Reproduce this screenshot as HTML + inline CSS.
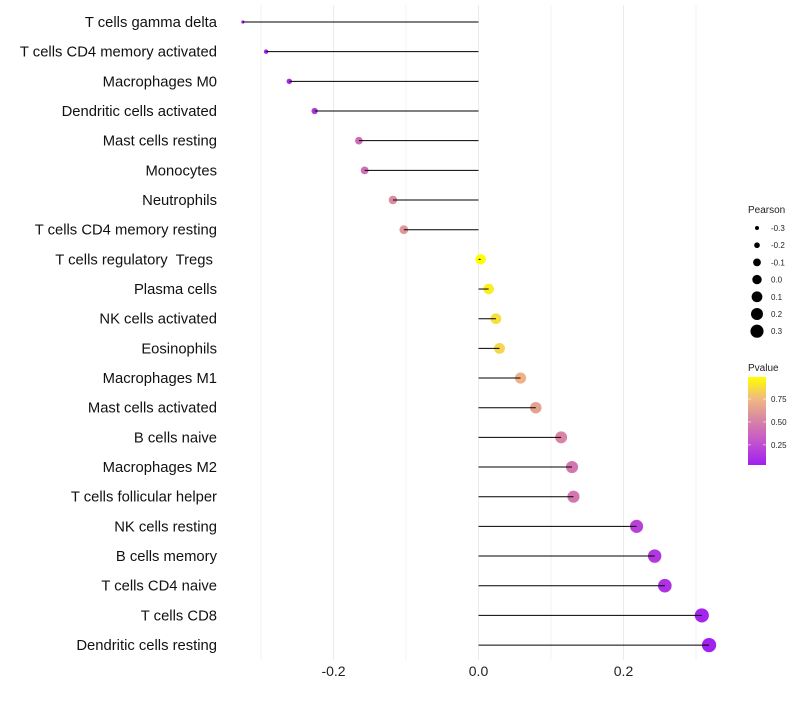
<!DOCTYPE html>
<html><head><meta charset="utf-8"><style>
body{margin:0;background:#fff;font-family:"Liberation Sans",sans-serif}
</style></head><body>
<svg id="c" width="800" height="700" xmlns="http://www.w3.org/2000/svg" font-family="Liberation Sans, sans-serif"></svg>
<script>
const categories=["T cells gamma delta","T cells CD4 memory activated","Macrophages M0","Dendritic cells activated","Mast cells resting","Monocytes","Neutrophils","T cells CD4 memory resting","T cells regulatory  Tregs ","Plasma cells","NK cells activated","Eosinophils","Macrophages M1","Mast cells activated","B cells naive","Macrophages M2","T cells follicular helper","NK cells resting","B cells memory","T cells CD4 naive","T cells CD8","Dendritic cells resting"];
const pearson=[-0.325,-0.293,-0.261,-0.226,-0.165,-0.157,-0.118,-0.103,0.003,0.014,0.024,0.029,0.058,0.079,0.114,0.129,0.131,0.218,0.243,0.257,0.308,0.318];
const pvalue=[0.05,0.07,0.1,0.15,0.4,0.42,0.55,0.6,0.99,0.93,0.88,0.85,0.72,0.65,0.52,0.46,0.46,0.2,0.15,0.12,0.06,0.04];
const xTicks=[-0.2,0,0.2];
const xTickLabels=["-0.2","0.0","0.2"];
const sizeLegend=[-0.3,-0.2,-0.1,0.0,0.1,0.2,0.3];
const sizeLegendLabels=["-0.3","-0.2","-0.1","0.0","0.1","0.2","0.3"];
const pTicks=[0.25,0.5,0.75];
const pTickLabels=["0.25","0.50","0.75"];

const NS="http://www.w3.org/2000/svg";
const svg=document.getElementById('c');
function mk(t,a,p){const e=document.createElementNS(NS,t);for(const k in a)e.setAttribute(k,a[k]);(p||svg).appendChild(e);return e;}
const x=v=>478.5+v*725;
const y=i=>22+i*29.67;
const rad=v=>Math.max(1.6,Math.sqrt(Math.max(0,27+75*v)));
const stops=[[0,[160,32,240]],[0.3,[200,90,200]],[0.5,[215,130,165]],[0.75,[240,185,130]],[1,[255,255,0]]];
function col(p){const t=Math.max(0,Math.min(1,(p-0.03)/0.96));for(let i=1;i<stops.length;i++){if(t<=stops[i][0]){const a=stops[i-1],b=stops[i],f=(t-a[0])/(b[0]-a[0]);return 'rgb('+a[1].map((c,j)=>Math.round(c+(b[1][j]-c)*f)).join(',')+')';}}return 'rgb(255,255,0)';}

const grid=mk('g',{});


for(let v=-0.3;v<=0.301;v+=0.1){mk('line',{x1:x(v),x2:x(v),y1:5,y2:660,stroke:Math.abs(Math.round(v*10))%2===0?'#ebebeb':'#f3f3f3','stroke-width':1},grid);}
xTicks.forEach((v,i)=>{const t=mk('text',{x:x(v),y:676,'text-anchor':'middle','font-size':14,fill:'#222'});t.textContent=xTickLabels[i];

});
categories.forEach((c,i)=>{
 const t=mk('text',{x:217,y:y(i)+5,'text-anchor':'end','font-size':14.8,fill:'#111',style:'white-space:pre'});t.textContent=c;
 
 
 const pt=mk('circle',{cx:x(pearson[i]),cy:y(i),r:rad(pearson[i]),fill:col(pvalue[i])});
 
 
 const ln=mk('line',{x1:x(0),x2:x(pearson[i]),y1:y(i),y2:y(i),stroke:'#000','stroke-width':1});
 
 
});
const lg=mk('g',{});


let tt=mk('text',{x:748,y:213,'font-size':10,fill:'#222'},lg);tt.textContent='Pearson';
sizeLegend.forEach((v,i)=>{const cy=228+i*17.2;mk('circle',{cx:757,cy:cy,r:Math.sqrt(Math.max(4,22+70*v)),fill:'#000'},lg);const t=mk('text',{x:771,y:cy+3,'font-size':8,fill:'#222'},lg);t.textContent=sizeLegendLabels[i];});
const cg=mk('g',{});


tt=mk('text',{x:748,y:371,'font-size':10,fill:'#222'},cg);tt.textContent='Pvalue';
const defs=mk('defs',{});const gr=mk('linearGradient',{id:'pg',x1:0,y1:1,x2:0,y2:0},defs);
stops.forEach(s=>mk('stop',{offset:s[0],'stop-color':'rgb('+s[1].join(',')+')'},gr));
mk('rect',{x:748,y:377,width:18,height:88,fill:'url(#pg)'},cg);
const py=p=>465-(p-0.03)/0.96*88;
pTicks.forEach((p,i)=>{mk('line',{x1:748,x2:751,y1:py(p),y2:py(p),stroke:'#fff','stroke-opacity':0.6},cg);mk('line',{x1:763,x2:766,y1:py(p),y2:py(p),stroke:'#fff','stroke-opacity':0.6},cg);const t=mk('text',{x:771,y:py(p)+3,'font-size':8,fill:'#222'},cg);t.textContent=pTickLabels[i];});
</script>
</body></html>
